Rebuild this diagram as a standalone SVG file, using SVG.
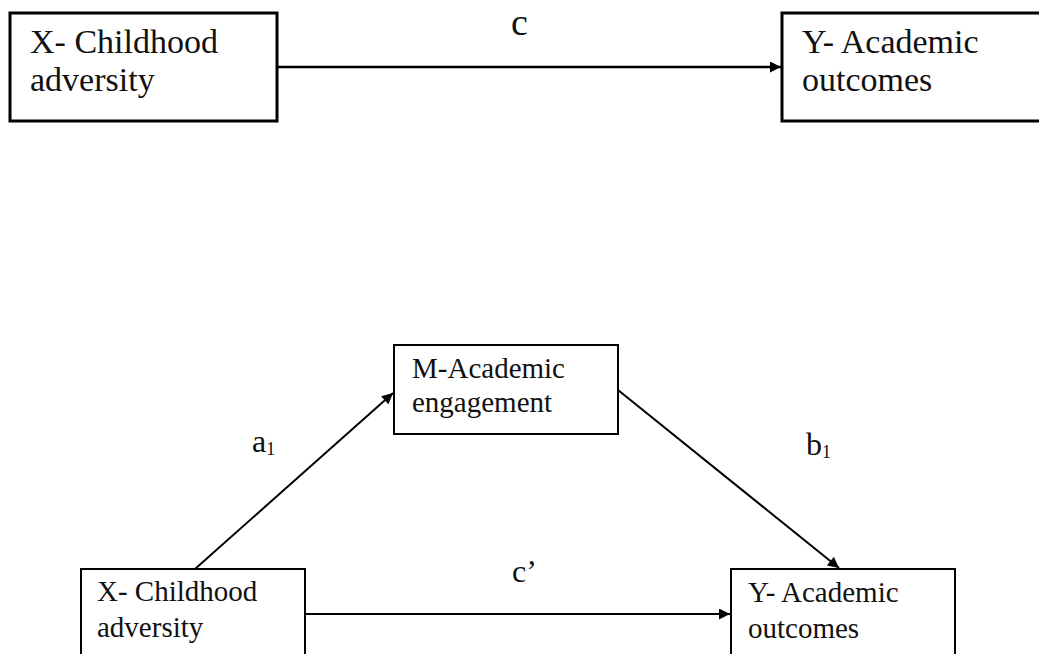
<svg xmlns="http://www.w3.org/2000/svg" width="1039" height="654" viewBox="0 0 1039 654">
<defs>
<style>
.t{font-family:"Liberation Serif","Times New Roman",serif;fill:#111}
.big{font-size:34px}
.sm{font-size:29px}
.lab{font-size:32px}
.box1{fill:#fff;stroke:#000;stroke-width:3}
.box2{fill:#fff;stroke:#000;stroke-width:2}
.ln{stroke:#000;fill:none}
</style>
<marker id="ah" viewBox="0 0 10 10" refX="10" refY="5" markerWidth="12" markerHeight="11" markerUnits="userSpaceOnUse" orient="auto">
<path d="M0,0 L10,5 L0,10 Z" fill="#000"/>
</marker>
</defs>
<rect width="1039" height="654" fill="#fff"/>
<g id="connectors">
<line class="ln" x1="278" y1="67" x2="781" y2="67" stroke-width="2.5" marker-end="url(#ah)"/>
<line class="ln" x1="195" y1="569" x2="393" y2="393" stroke-width="2" marker-end="url(#ah)"/>
<line class="ln" x1="618" y1="390" x2="839" y2="568" stroke-width="2" marker-end="url(#ah)"/>
<line class="ln" x1="305" y1="614" x2="730" y2="614" stroke-width="2" marker-end="url(#ah)"/>
<text class="t" font-size="38" x="511" y="35">c</text>
<text class="t lab" x="252" y="452">a<tspan font-size="18" dy="3">1</tspan></text>
<text class="t lab" x="806" y="455">b<tspan font-size="18" dy="3">1</tspan></text>
<text class="t lab" x="512" y="582">c’</text>
</g>
<g id="x-top">
<rect class="box1" x="10" y="13" width="267" height="108"/>
<text class="t big" x="30" y="53">X- Childhood</text>
<text class="t big" x="30" y="91">adversity</text>
</g>
<g id="y-top">
<rect class="box1" x="782" y="13" width="300" height="108"/>
<text class="t big" x="802" y="53">Y- Academic</text>
<text class="t big" x="802" y="91">outcomes</text>
</g>
<g id="m-mid">
<rect class="box2" x="394" y="345" width="224" height="89"/>
<text class="t sm" x="412" y="378">M-Academic</text>
<text class="t sm" x="412" y="412">engagement</text>
</g>
<g id="x-bottom">
<rect class="box2" x="81" y="569" width="224" height="100"/>
<text class="t sm" x="97" y="601">X- Childhood</text>
<text class="t sm" x="97" y="637">adversity</text>
</g>
<g id="y-bottom">
<rect class="box2" x="731" y="569" width="224" height="100"/>
<text class="t sm" x="748" y="602">Y- Academic</text>
<text class="t sm" x="748" y="638">outcomes</text>
</g>
</svg>
